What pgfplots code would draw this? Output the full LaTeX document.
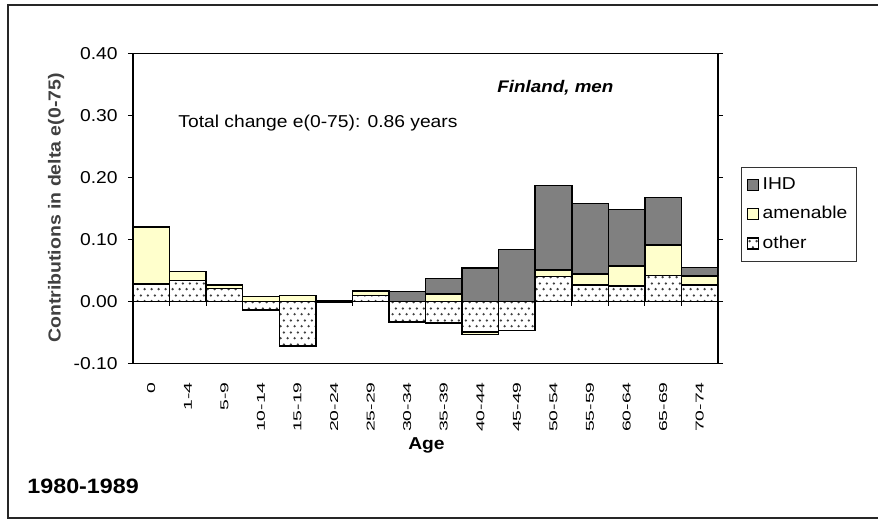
\documentclass[border=0pt]{standalone}
\usepackage{pgfplots}
\pgfplotsset{compat=1.18}
\usepackage{pgfplotstable}
\usepackage{fontspec}
\setmainfont{Liberation Sans}[FakeStretch=1.12]
\newfontfamily\tickfont{Liberation Sans}[FakeStretch=1.7]
\usetikzlibrary{patterns.meta}
\tikzdeclarepattern{name=sdots, type=uncolored,
  bounding box={(0pt,0pt) and (3.6pt,6pt)}, tile size={(3.6pt,6pt)},
  code={\fill (0.9pt,1.5pt) circle (0.7pt); \fill (2.7pt,4.5pt) circle (0.7pt);}}
\definecolor{ihd}{RGB}{128,128,128}
\definecolor{amen}{RGB}{255,255,204}

% op/ap/ip = positive parts (other, amenable, IHD); on/an = negative parts
\pgfplotstableread{
x  op     ap     ip     on      an
0  0.028  0.092  0      0       0
1  0.034  0.014  0      0       0
2  0.021  0.006  0      0       0
3  0      0.008  0      -0.014  0
4  0      0.010  0      -0.072  0
5  0      0.001  0      -0.002  0
6  0.010  0.007  0      0       0
7  0      0      0.016  -0.033  0
8  0      0.012  0.025  -0.035  0
9  0      0      0.054  -0.049  -0.004
10 0      0      0.084  -0.047  0
11 0.040  0.011  0.136  0       0
12 0.027  0.017  0.114  0       0
13 0.025  0.032  0.091  0       0
14 0.042  0.049  0.077  0       0
15 0.027  0.014  0.014  0       0
}\data

\begin{document}
\begin{tikzpicture}
\useasboundingbox (0,0) rectangle (439pt,260pt);
\draw[line width=1pt, black!85] (441pt,257.5pt) -- (4pt,257.5pt) -- (4pt,1pt) -- (441pt,1pt);
\pgfplotsset{base/.style={scale only axis, width=292.5pt, height=155pt,
  at={(66.5pt,78.25pt)}, anchor=south west,
  xmin=-0.5, xmax=15.5, ymin=-0.1, ymax=0.4,
  ybar stacked, bar width=18.28pt}}
\begin{axis}[base,
  axis line style={line width=0.7pt},
  tick align=outside, major tick length=2.5pt,
  ytick={-0.1,0,0.1,0.2,0.3,0.4},
  ytick style={black, line width=0.6pt},
  yticklabel style={font=\fontsize{8.6}{10}\selectfont, inner sep=0pt, xshift=-5pt,
    /pgf/number format/fixed, /pgf/number format/fixed zerofill,
    /pgf/number format/precision=2, /pgf/number format/assume math mode=true},
  xtick={0,...,15}, xtick style={draw=none},
  xticklabels={0,1-4,5-9,10-14,15-19,20-24,25-29,30-34,35-39,40-44,45-49,50-54,55-59,60-64,65-69,70-74},
  xticklabel style={font=\tickfont\fontsize{5.7}{6}\selectfont, rotate=90, anchor=east, inner sep=0pt, text=black},
  xticklabel shift=6.75pt,
  legend style={at={(1.0393,0.6339)}, anchor=north west, draw=black!80, line width=0.5pt,
    font=\fontsize{8.6}{10}\selectfont, inner xsep=2.5pt, inner ysep=3pt, row sep=3pt},
  legend cell align=left, reverse legend,
  legend image code/.code={\draw[#1, line width=0.6pt] (0pt,-2.75pt) rectangle (5.5pt,2.75pt);},
]
\addplot[fill=white, postaction={pattern=sdots, pattern color=black!75}, draw=black, line width=0.75pt] table[x=x,y=op]{\data};
\addplot[fill=amen, draw=black, line width=0.75pt] table[x=x,y=ap]{\data};
\addplot[fill=ihd, draw=black, line width=0.75pt] table[x=x,y=ip]{\data};
\legend{other,amenable,IHD}
\end{axis}
\begin{axis}[base, hide axis]
\addplot[fill=white, postaction={pattern=sdots, pattern color=black!75}, draw=black, line width=0.75pt] table[x=x,y=on]{\data};
\addplot[fill=amen, draw=black, line width=0.75pt] table[x=x,y=an]{\data};
\draw[line width=0.8pt] (axis cs:-0.5,0) -- (axis cs:15.5,0);
\pgfplotsinvokeforeach{0.5,1.5,...,14.5}{\draw[line width=0.5pt] (axis cs:#1,0) -- ++(0pt,-2.5pt);}
\end{axis}
\node[anchor=base west, inner sep=0pt, font=\fontsize{8.6}{10}\selectfont] at (89pt,196pt) {Total change e(0-75): 0.86 years};
\node[anchor=base west, inner sep=0pt, font=\fontsize{8.4}{10}\selectfont\bfseries\itshape] at (248.5pt,213.5pt) {Finland, men};
\node[inner sep=0pt, font=\fontsize{8.6}{10}\selectfont\bfseries] at (213.25pt,37.5pt) {Age};
\node[anchor=west, inner sep=0pt, font=\fontsize{10.4}{12}\selectfont\bfseries] at (13.5pt,16.65pt) {1980-1989};
\node[rotate=90, inner sep=0pt, text=black!75, font=\fontsize{8.7}{10}\selectfont\bfseries] at (28pt,156pt) {Contributions in delta e(0-75)};
\end{tikzpicture}
\end{document}
